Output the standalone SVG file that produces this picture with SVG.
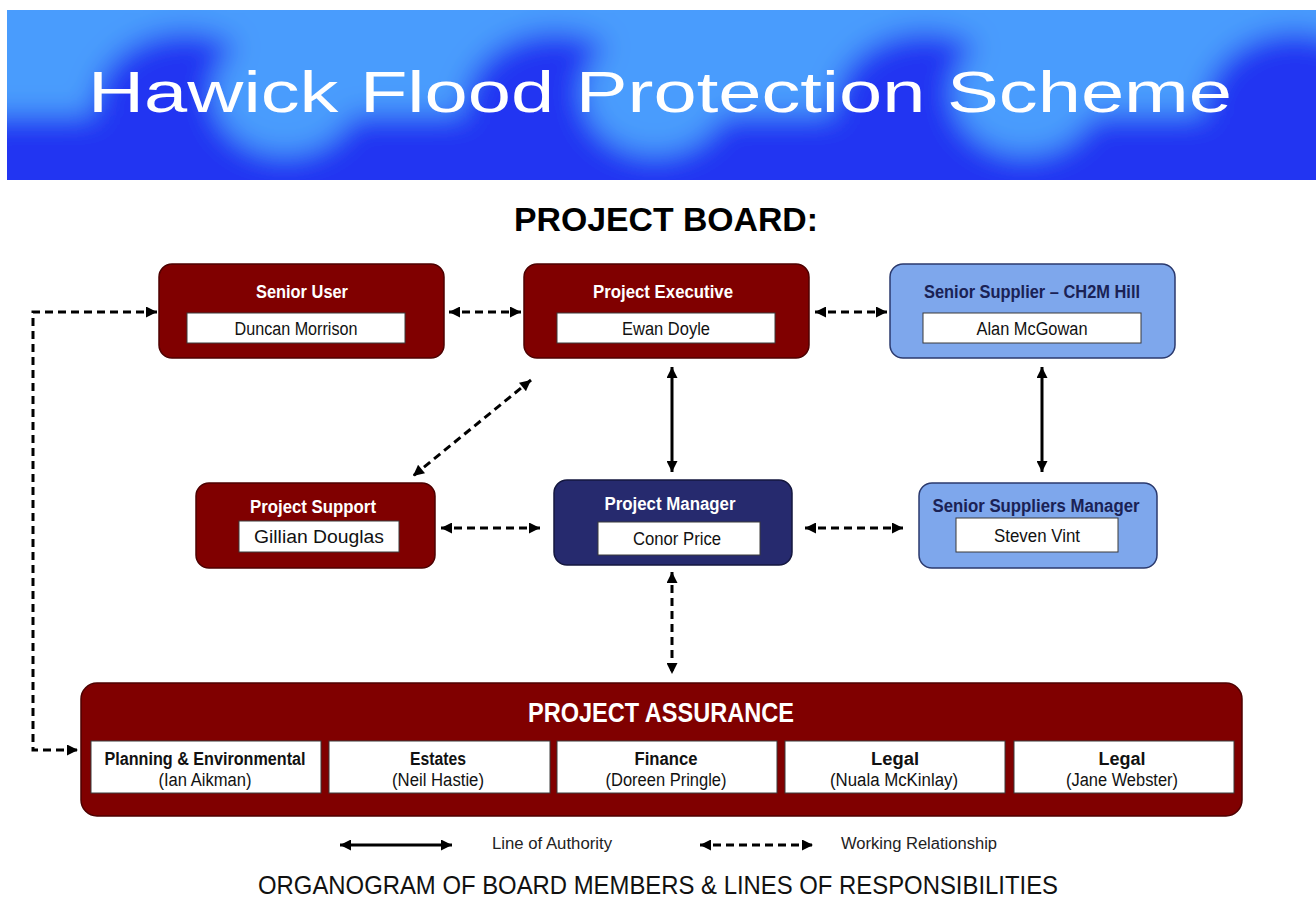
<svg xmlns="http://www.w3.org/2000/svg" width="1316" height="902" viewBox="0 0 1316 902">
<style>
text{font-family:"Liberation Sans",Arial,sans-serif}
.red{fill:#800000;stroke:#4d0000;stroke-width:1.5}
.lb{fill:#7ea7ec;stroke:#2b3a6e;stroke-width:1.5}
.nv{fill:#262a6e;stroke:#14173f;stroke-width:1.5}
.box{fill:#ffffff;stroke:#3a3a3a;stroke-width:1}
.tw{fill:#ffffff;font-weight:bold;font-size:18px;text-anchor:middle}
.tb{fill:#1a2255;font-weight:bold;font-size:18px;text-anchor:middle}
.nm{fill:#111111;font-size:18px;text-anchor:middle}
.st{fill:#111111;font-weight:bold;font-size:18px;text-anchor:middle}
.lg{fill:#222222;font-size:16px}
.sol{stroke:#000;stroke-width:3;fill:none}
.dsh{stroke:#000;stroke-width:3;fill:none;stroke-dasharray:8 5}
.dk{fill:#2434f2}
.lt{fill:#4a9cfd}
</style>
<defs>
<marker id="ah" viewBox="0 0 10 10" refX="10" refY="5" markerUnits="userSpaceOnUse" markerWidth="12" markerHeight="11" orient="auto-start-reverse">
<path d="M0,0 L10,5 L0,10 z" fill="#000"/>
</marker>
<filter id="blur" x="-5%" y="-20%" width="110%" height="140%">
<feGaussianBlur stdDeviation="14"/>
</filter>
<clipPath id="bc"><rect x="7" y="10" width="1309" height="170"/></clipPath>
</defs>

<g id="banner">
<rect x="7" y="10" width="1309" height="170" fill="#4a9cfd"/>
<g clip-path="url(#bc)">
<g filter="url(#blur)">
<rect class="lt" x="-40" y="-20" width="1400" height="135"/>
<rect class="dk" x="-40" y="115" width="1400" height="120"/>
<ellipse class="dk" cx="185" cy="110" rx="92" ry="78"/>
<ellipse class="dk" cx="555" cy="110" rx="92" ry="78"/>
<ellipse class="dk" cx="925" cy="110" rx="92" ry="78"/>
<ellipse class="dk" cx="1295" cy="110" rx="92" ry="78"/>
<ellipse class="lt" cx="285" cy="93" rx="72" ry="62"/>
<ellipse class="lt" cx="655" cy="93" rx="72" ry="62"/>
<ellipse class="lt" cx="1025" cy="93" rx="72" ry="62"/>
<ellipse class="lt" cx="-85" cy="93" rx="72" ry="62"/>
</g>
</g>
<text x="88" y="112" font-size="58" fill="#ffffff" textLength="1144" lengthAdjust="spacingAndGlyphs">Hawick Flood Protection Scheme</text>
</g>

<text x="514" y="231" font-size="33" font-weight="bold" fill="#000" textLength="304" lengthAdjust="spacingAndGlyphs">PROJECT BOARD:</text>

<g id="connectors">
<line class="dsh" x1="449" y1="312" x2="521" y2="312" marker-start="url(#ah)" marker-end="url(#ah)"/>
<line class="dsh" x1="815" y1="312" x2="887" y2="312" marker-start="url(#ah)" marker-end="url(#ah)"/>
<line class="sol" x1="672" y1="367" x2="672" y2="472" marker-start="url(#ah)" marker-end="url(#ah)"/>
<line class="sol" x1="1042" y1="367" x2="1042" y2="472" marker-start="url(#ah)" marker-end="url(#ah)"/>
<line class="dsh" x1="531" y1="380" x2="413" y2="476" marker-start="url(#ah)" marker-end="url(#ah)"/>
<line class="dsh" x1="441" y1="528" x2="540" y2="528" marker-start="url(#ah)" marker-end="url(#ah)"/>
<line class="dsh" x1="805" y1="528" x2="903" y2="528" marker-start="url(#ah)" marker-end="url(#ah)"/>
<line class="dsh" x1="672" y1="572" x2="672" y2="674" marker-start="url(#ah)" marker-end="url(#ah)"/>
<path class="dsh" d="M157,312 L33,312 L33,750 L78,750" marker-start="url(#ah)" marker-end="url(#ah)"/>
</g>

<g id="senior-user">
<rect class="red" x="159" y="264" width="285" height="94" rx="13"/>
<text class="tw" x="302" y="298" textLength="92" lengthAdjust="spacingAndGlyphs">Senior User</text>
<rect class="box" x="187" y="313" width="218" height="30"/>
<text class="nm" x="296" y="335" textLength="123" lengthAdjust="spacingAndGlyphs">Duncan Morrison</text>
</g>

<g id="project-executive">
<rect class="red" x="524" y="264" width="285" height="94" rx="13"/>
<text class="tw" x="663" y="298" textLength="140" lengthAdjust="spacingAndGlyphs">Project Executive</text>
<rect class="box" x="557" y="313" width="218" height="30"/>
<text class="nm" x="666" y="335" textLength="88" lengthAdjust="spacingAndGlyphs">Ewan Doyle</text>
</g>

<g id="senior-supplier">
<rect class="lb" x="890" y="264" width="285" height="94" rx="13"/>
<text class="tb" x="1032" y="298" textLength="216" lengthAdjust="spacingAndGlyphs">Senior Supplier – CH2M Hill</text>
<rect class="box" x="923" y="313" width="218" height="30"/>
<text class="nm" x="1032" y="335" textLength="111" lengthAdjust="spacingAndGlyphs">Alan McGowan</text>
</g>

<g id="project-support">
<rect class="red" x="196" y="483" width="239" height="85" rx="13"/>
<text class="tw" x="313" y="513" textLength="126" lengthAdjust="spacingAndGlyphs">Project Support</text>
<rect class="box" x="239" y="521" width="160" height="31"/>
<text class="nm" x="319" y="543" textLength="130" lengthAdjust="spacingAndGlyphs">Gillian Douglas</text>
</g>

<g id="project-manager">
<rect class="nv" x="554" y="480" width="238" height="85" rx="13"/>
<text class="tw" x="670" y="510" textLength="131" lengthAdjust="spacingAndGlyphs">Project Manager</text>
<rect class="box" x="598" y="522" width="162" height="33"/>
<text class="nm" x="677" y="545" textLength="88" lengthAdjust="spacingAndGlyphs">Conor Price</text>
</g>

<g id="senior-suppliers-manager">
<rect class="lb" x="919" y="483" width="238" height="85" rx="13"/>
<text class="tb" x="1036" y="512" textLength="207" lengthAdjust="spacingAndGlyphs">Senior Suppliers Manager</text>
<rect class="box" x="956" y="518" width="162" height="34"/>
<text class="nm" x="1037" y="542" textLength="86" lengthAdjust="spacingAndGlyphs">Steven Vint</text>
</g>

<g id="project-assurance">
<rect class="red" x="81" y="683" width="1161" height="133" rx="16"/>
<text x="661" y="722" font-size="27" font-weight="bold" fill="#fff" text-anchor="middle" textLength="266" lengthAdjust="spacingAndGlyphs">PROJECT ASSURANCE</text>
<rect class="box" x="91" y="741" width="230" height="52"/>
<text class="st" x="205" y="765" textLength="201" lengthAdjust="spacingAndGlyphs">Planning &amp; Environmental</text>
<text class="nm" x="205" y="786" textLength="93" lengthAdjust="spacingAndGlyphs">(Ian Aikman)</text>
<rect class="box" x="329" y="741" width="221" height="52"/>
<text class="st" x="438" y="765" textLength="56" lengthAdjust="spacingAndGlyphs">Estates</text>
<text class="nm" x="438" y="786" textLength="92" lengthAdjust="spacingAndGlyphs">(Neil Hastie)</text>
<rect class="box" x="557" y="741" width="220" height="52"/>
<text class="st" x="666" y="765" textLength="63" lengthAdjust="spacingAndGlyphs">Finance</text>
<text class="nm" x="666" y="786" textLength="121" lengthAdjust="spacingAndGlyphs">(Doreen Pringle)</text>
<rect class="box" x="785" y="741" width="220" height="52"/>
<text class="st" x="895" y="765" textLength="48" lengthAdjust="spacingAndGlyphs">Legal</text>
<text class="nm" x="894" y="786" textLength="128" lengthAdjust="spacingAndGlyphs">(Nuala McKinlay)</text>
<rect class="box" x="1014" y="741" width="220" height="52"/>
<text class="st" x="1122" y="765" textLength="47" lengthAdjust="spacingAndGlyphs">Legal</text>
<text class="nm" x="1122" y="786" textLength="112" lengthAdjust="spacingAndGlyphs">(Jane Webster)</text>
</g>

<g id="legend">
<line class="sol" x1="340" y1="845" x2="452" y2="845" marker-start="url(#ah)" marker-end="url(#ah)"/>
<text class="lg" x="492" y="849" textLength="120" lengthAdjust="spacingAndGlyphs">Line of Authority</text>
<line class="dsh" x1="700" y1="845" x2="813" y2="845" marker-start="url(#ah)" marker-end="url(#ah)"/>
<text class="lg" x="841" y="849" textLength="156" lengthAdjust="spacingAndGlyphs">Working Relationship</text>
</g>

<text x="258" y="894" font-size="25" fill="#111" textLength="800" lengthAdjust="spacingAndGlyphs">ORGANOGRAM OF BOARD MEMBERS &amp; LINES OF RESPONSIBILITIES</text>
</svg>
